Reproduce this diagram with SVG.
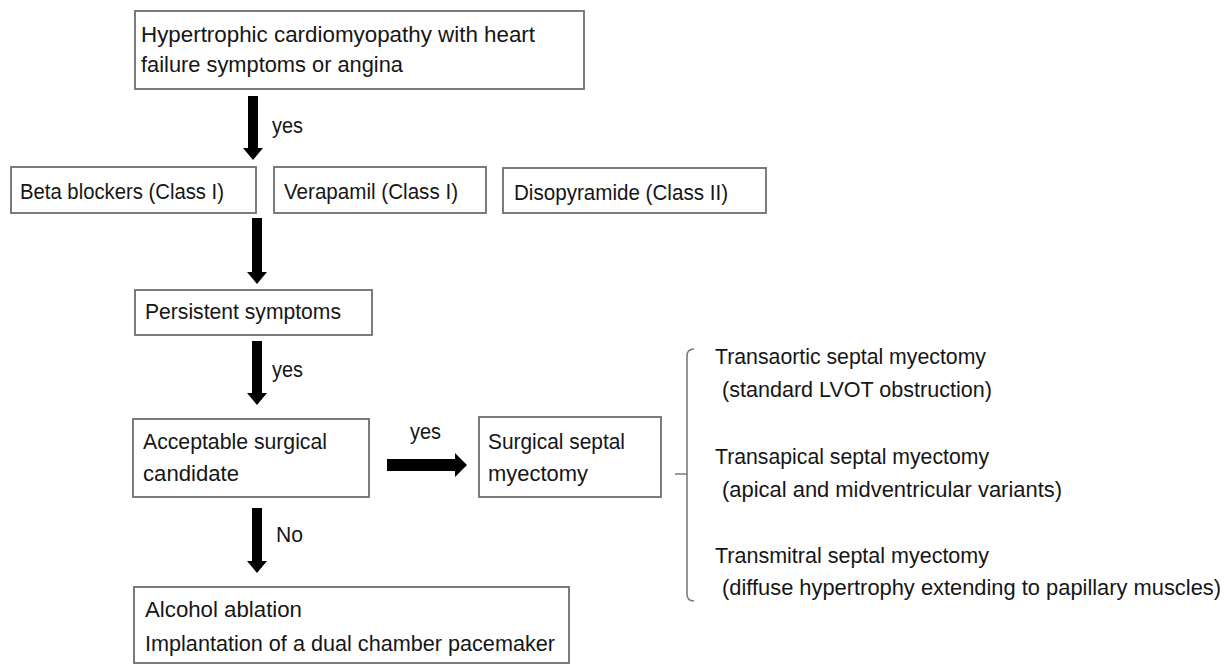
<svg xmlns="http://www.w3.org/2000/svg" width="1231" height="664" viewBox="0 0 1231 664">
<style>
.box{fill:#fff;stroke:#6e6e6e;stroke-width:1.8}
.t{font-family:"Liberation Sans",Arial,sans-serif;font-size:22px;fill:#161616}
.arr{fill:#000}
.br{fill:none;stroke:#7a7a7a;stroke-width:1.6}
</style>
<rect width="1231" height="664" fill="#fff"/>
<g id="n-hcm">
<rect class="box" x="135" y="11" width="449" height="78"/>
<text class="t" x="141" y="42" textLength="394" lengthAdjust="spacingAndGlyphs">Hypertrophic cardiomyopathy with heart</text>
<text class="t" x="141" y="72" textLength="262" lengthAdjust="spacingAndGlyphs">failure symptoms or angina</text>
</g>
<g id="n-beta">
<rect class="box" x="11" y="167" width="245" height="46"/>
<text class="t" x="20" y="199" textLength="204" lengthAdjust="spacingAndGlyphs">Beta blockers (Class I)</text>
</g>
<g id="n-verapamil">
<rect class="box" x="274" y="167" width="212" height="46"/>
<text class="t" x="284" y="199" textLength="174" lengthAdjust="spacingAndGlyphs">Verapamil (Class I)</text>
</g>
<g id="n-disopyramide">
<rect class="box" x="503" y="168" width="263" height="45"/>
<text class="t" x="514" y="200" textLength="214" lengthAdjust="spacingAndGlyphs">Disopyramide (Class II)</text>
</g>
<g id="n-persistent">
<rect class="box" x="135" y="290" width="237" height="45"/>
<text class="t" x="145" y="319" textLength="196" lengthAdjust="spacingAndGlyphs">Persistent symptoms</text>
</g>
<g id="n-candidate">
<rect class="box" x="133" y="419" width="236" height="78"/>
<text class="t" x="143" y="449" textLength="184" lengthAdjust="spacingAndGlyphs">Acceptable surgical</text>
<text class="t" x="143" y="481" textLength="96" lengthAdjust="spacingAndGlyphs">candidate</text>
</g>
<g id="n-myectomy">
<rect class="box" x="479" y="417" width="182" height="80"/>
<text class="t" x="488" y="449" textLength="137" lengthAdjust="spacingAndGlyphs">Surgical septal</text>
<text class="t" x="488" y="481" textLength="100" lengthAdjust="spacingAndGlyphs">myectomy</text>
</g>
<g id="n-alcohol">
<rect class="box" x="134" y="587" width="435" height="76"/>
<text class="t" x="145" y="617" textLength="157" lengthAdjust="spacingAndGlyphs">Alcohol ablation</text>
<text class="t" x="145" y="651" textLength="410" lengthAdjust="spacingAndGlyphs">Implantation of a dual chamber pacemaker</text>
</g>
<g id="n-options">
<path class="br" d="M694,349 Q687,349 687,356 L687,594 Q687,601 694,601 M687,474 L675,474"/>
<text class="t" x="715" y="364" textLength="271" lengthAdjust="spacingAndGlyphs">Transaortic septal myectomy</text>
<text class="t" x="722" y="397" textLength="270" lengthAdjust="spacingAndGlyphs">(standard LVOT obstruction)</text>
<text class="t" x="715" y="464" textLength="274" lengthAdjust="spacingAndGlyphs">Transapical septal myectomy</text>
<text class="t" x="722" y="497" textLength="340" lengthAdjust="spacingAndGlyphs">(apical and midventricular variants)</text>
<text class="t" x="715" y="563" textLength="274" lengthAdjust="spacingAndGlyphs">Transmitral septal myectomy</text>
<text class="t" x="722" y="595" textLength="499" lengthAdjust="spacingAndGlyphs">(diffuse hypertrophy extending to papillary muscles)</text>
</g>
<g id="connectors">
<path class="arr" d="M248,96 H258 V148 H263 L253,160 L243,148 H248 Z"/>
<text class="t" x="272" y="133" textLength="31" lengthAdjust="spacingAndGlyphs">yes</text>
<path class="arr" d="M252,218 H262 V272 H267 L257,284 L247,272 H252 Z"/>
<path class="arr" d="M252,341 H262 V393 H267 L257,405 L247,393 H252 Z"/>
<text class="t" x="272" y="377" textLength="31" lengthAdjust="spacingAndGlyphs">yes</text>
<path class="arr" d="M387,459 H455 V453 L467,465 L455,477 V471 H387 Z"/>
<text class="t" x="410" y="439" textLength="31" lengthAdjust="spacingAndGlyphs">yes</text>
<path class="arr" d="M252,508 H262 V561 H267 L257,573 L247,561 H252 Z"/>
<text class="t" x="276" y="542" textLength="27" lengthAdjust="spacingAndGlyphs">No</text>
</g>
</svg>
